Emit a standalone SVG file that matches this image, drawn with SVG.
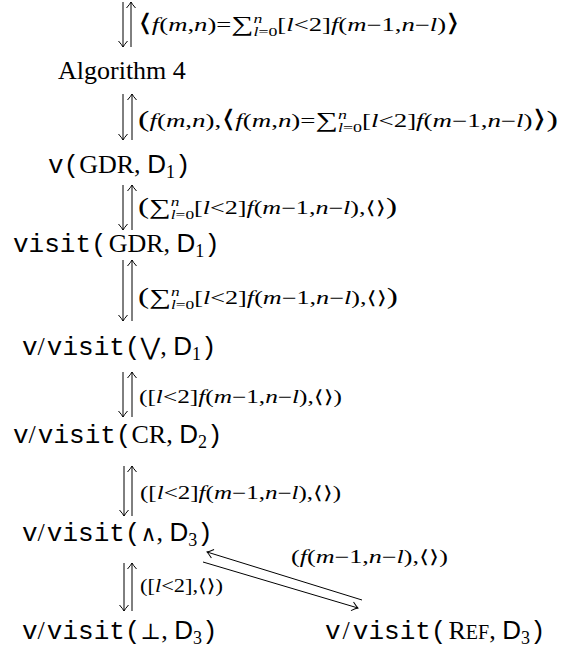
<svg xmlns="http://www.w3.org/2000/svg" width="569" height="652" viewBox="0 0 569 652">
<style>
.tt{font-family:"Liberation Mono",monospace;font-size:26px}
.rm{font-family:"Liberation Serif",serif;font-size:26px}
.sf{font-family:"Liberation Sans",sans-serif;font-size:26px}
.sb{font-family:"Liberation Serif",serif;font-size:18px}
.sym{font-family:"DejaVu Sans",sans-serif;font-size:24px}
.ws{font-family:"DejaVu Serif",serif;font-size:22px}
.lb{font-family:"Liberation Serif","DejaVu Sans",serif;font-size:18px;fill:#000}
.i{font-style:italic}
.ang{font-family:"DejaVu Sans",sans-serif}
.big{font-size:24px}
.bp{font-size:23px;font-family:"Liberation Serif",serif}
.op{font-size:21px}
.sc{font-size:12px}
.cn line{stroke:#000;stroke-width:1;fill:none}
.dn{marker-end:url(#ah)}
</style>
<defs>
<marker id="ah" markerUnits="userSpaceOnUse" orient="auto" overflow="visible" markerWidth="10" markerHeight="10" refX="0" refY="0">
<path d="M-6,-4.5 Q-2,-1 0,0 Q-2,1 -6,4.5" fill="none" stroke="#000" stroke-width="1"/>
</marker>
</defs>

<g id="connectors" class="cn">
<line class="dn" x1="123" y1="2" x2="123" y2="47"/>
<line class="dn" x1="131" y1="47" x2="131" y2="2"/>
<line class="dn" x1="123" y1="94" x2="123" y2="140"/>
<line class="dn" x1="132" y1="140" x2="132" y2="94"/>
<line class="dn" x1="123" y1="185" x2="123" y2="230"/>
<line class="dn" x1="132" y1="230" x2="132" y2="185"/>
<line class="dn" x1="123" y1="260" x2="123" y2="321"/>
<line class="dn" x1="132" y1="321" x2="132" y2="260"/>
<line class="dn" x1="123" y1="372" x2="123" y2="417"/>
<line class="dn" x1="132" y1="417" x2="132" y2="372"/>
<line class="dn" x1="124" y1="466" x2="124" y2="516"/>
<line class="dn" x1="132" y1="516" x2="132" y2="466"/>
<line class="dn" x1="124" y1="563" x2="124" y2="611"/>
<line class="dn" x1="132" y1="611" x2="132" y2="563"/>
<line class="dn" x1="362" y1="600" x2="207" y2="552"/>
<line class="dn" x1="203" y1="562" x2="358" y2="608"/>
</g>

<g id="labels">
<text class="lb" x="138" y="31" textLength="322" lengthAdjust="spacingAndGlyphs"><tspan class="ang big">⟨</tspan><tspan class="i">f</tspan>(<tspan class="i">m</tspan>,<tspan class="i">n</tspan>)=<tspan class="op">∑</tspan><tspan class="sc i" dy="-8">n</tspan><tspan class="sc" dx="-6" dy="13"><tspan class="i">l</tspan>=0</tspan><tspan dy="-5">[</tspan><tspan class="i">l</tspan>&lt;2]<tspan class="i">f</tspan>(<tspan class="i">m</tspan>−1,<tspan class="i">n</tspan>−<tspan class="i">l</tspan>)<tspan class="ang big">⟩</tspan></text>
<text class="lb" x="138" y="127" textLength="420" lengthAdjust="spacingAndGlyphs"><tspan class="bp">(</tspan><tspan class="i">f</tspan>(<tspan class="i">m</tspan>,<tspan class="i">n</tspan>),<tspan class="ang big">⟨</tspan><tspan class="i">f</tspan>(<tspan class="i">m</tspan>,<tspan class="i">n</tspan>)=<tspan class="op">∑</tspan><tspan class="sc i" dy="-8">n</tspan><tspan class="sc" dx="-6" dy="13"><tspan class="i">l</tspan>=0</tspan><tspan dy="-5">[</tspan><tspan class="i">l</tspan>&lt;2]<tspan class="i">f</tspan>(<tspan class="i">m</tspan>−1,<tspan class="i">n</tspan>−<tspan class="i">l</tspan>)<tspan class="ang big">⟩</tspan><tspan class="bp">)</tspan></text>
<text class="lb" x="138" y="214" textLength="259" lengthAdjust="spacingAndGlyphs"><tspan class="bp">(</tspan><tspan class="op">∑</tspan><tspan class="sc i" dy="-8">n</tspan><tspan class="sc" dx="-6" dy="13"><tspan class="i">l</tspan>=0</tspan><tspan dy="-5">[</tspan><tspan class="i">l</tspan>&lt;2]<tspan class="i">f</tspan>(<tspan class="i">m</tspan>−1,<tspan class="i">n</tspan>−<tspan class="i">l</tspan>),<tspan class="ang">⟨⟩</tspan><tspan class="bp">)</tspan></text>
<text class="lb" x="138" y="304" textLength="260" lengthAdjust="spacingAndGlyphs"><tspan class="bp">(</tspan><tspan class="op">∑</tspan><tspan class="sc i" dy="-8">n</tspan><tspan class="sc" dx="-6" dy="13"><tspan class="i">l</tspan>=0</tspan><tspan dy="-5">[</tspan><tspan class="i">l</tspan>&lt;2]<tspan class="i">f</tspan>(<tspan class="i">m</tspan>−1,<tspan class="i">n</tspan>−<tspan class="i">l</tspan>),<tspan class="ang">⟨⟩</tspan><tspan class="bp">)</tspan></text>
<text class="lb" x="139" y="403" textLength="203" lengthAdjust="spacingAndGlyphs">([<tspan class="i">l</tspan>&lt;2]<tspan class="i">f</tspan>(<tspan class="i">m</tspan>−1,<tspan class="i">n</tspan>−<tspan class="i">l</tspan>),<tspan class="ang">⟨⟩</tspan>)</text>
<text class="lb" x="140" y="499" textLength="201" lengthAdjust="spacingAndGlyphs">([<tspan class="i">l</tspan>&lt;2]<tspan class="i">f</tspan>(<tspan class="i">m</tspan>−1,<tspan class="i">n</tspan>−<tspan class="i">l</tspan>),<tspan class="ang">⟨⟩</tspan>)</text>
<text class="lb" x="140" y="592" textLength="83" lengthAdjust="spacingAndGlyphs">([<tspan class="i">l</tspan>&lt;2],<tspan class="ang">⟨⟩</tspan>)</text>
<text class="lb" x="291" y="563" textLength="157" lengthAdjust="spacingAndGlyphs">(<tspan class="i">f</tspan>(<tspan class="i">m</tspan>−1,<tspan class="i">n</tspan>−<tspan class="i">l</tspan>),<tspan class="ang">⟨⟩</tspan>)</text>
</g>

<g id="n-alg"><text class="rm" x="58" y="79">Algorithm 4</text></g>
<g id="n-v-gdr"><text x="48" y="173"><tspan class="tt">v(</tspan><tspan class="rm">GDR, </tspan><tspan class="sf">D</tspan><tspan class="sb" dy="5">1</tspan><tspan class="tt" dy="-5">)</tspan></text></g>
<g id="n-visit-gdr"><text x="13" y="252"><tspan class="tt">visit(</tspan><tspan class="rm" dx="2">GDR, </tspan><tspan class="sf">D</tspan><tspan class="sb" dy="5">1</tspan><tspan class="tt" dy="-5">)</tspan></text></g>
<g id="n-or"><text x="22" y="355"><tspan class="tt">v</tspan><tspan class="rm">/</tspan><tspan class="tt" dx="2">visit(</tspan><tspan class="sym">⋁</tspan><tspan class="rm">, </tspan><tspan class="sf">D</tspan><tspan class="sb" dy="5">1</tspan><tspan class="tt" dy="-5">)</tspan></text></g>
<g id="n-cr"><text x="13" y="443"><tspan class="tt">v</tspan><tspan class="rm">/</tspan><tspan class="tt" dx="2">visit(</tspan><tspan class="rm">CR, </tspan><tspan class="sf">D</tspan><tspan class="sb" dy="5">2</tspan><tspan class="tt" dy="-5">)</tspan></text></g>
<g id="n-and"><text x="22" y="541"><tspan class="tt">v</tspan><tspan class="rm">/</tspan><tspan class="tt" dx="2">visit(</tspan><tspan class="ws">∧</tspan><tspan class="rm">, </tspan><tspan class="sf">D</tspan><tspan class="sb" dy="5">3</tspan><tspan class="tt" dy="-5">)</tspan></text></g>
<g id="n-bot"><text x="22" y="639"><tspan class="tt">v</tspan><tspan class="rm">/</tspan><tspan class="tt" dx="2">visit(</tspan><tspan class="ws">⊥</tspan><tspan class="rm">, </tspan><tspan class="sf">D</tspan><tspan class="sb" dy="5">3</tspan><tspan class="tt" dy="-5">)</tspan></text></g>
<g id="n-ref"><text x="325" y="639"><tspan class="tt">v</tspan><tspan class="rm" dx="2">/</tspan><tspan class="tt" dx="3">visit(</tspan><tspan class="rm" dx="2">R</tspan><tspan class="rm" style="font-size:20px">EF</tspan><tspan class="rm">, </tspan><tspan class="sf">D</tspan><tspan class="sb" dy="5">3</tspan><tspan class="tt" dy="-5">)</tspan></text></g>
</svg>
